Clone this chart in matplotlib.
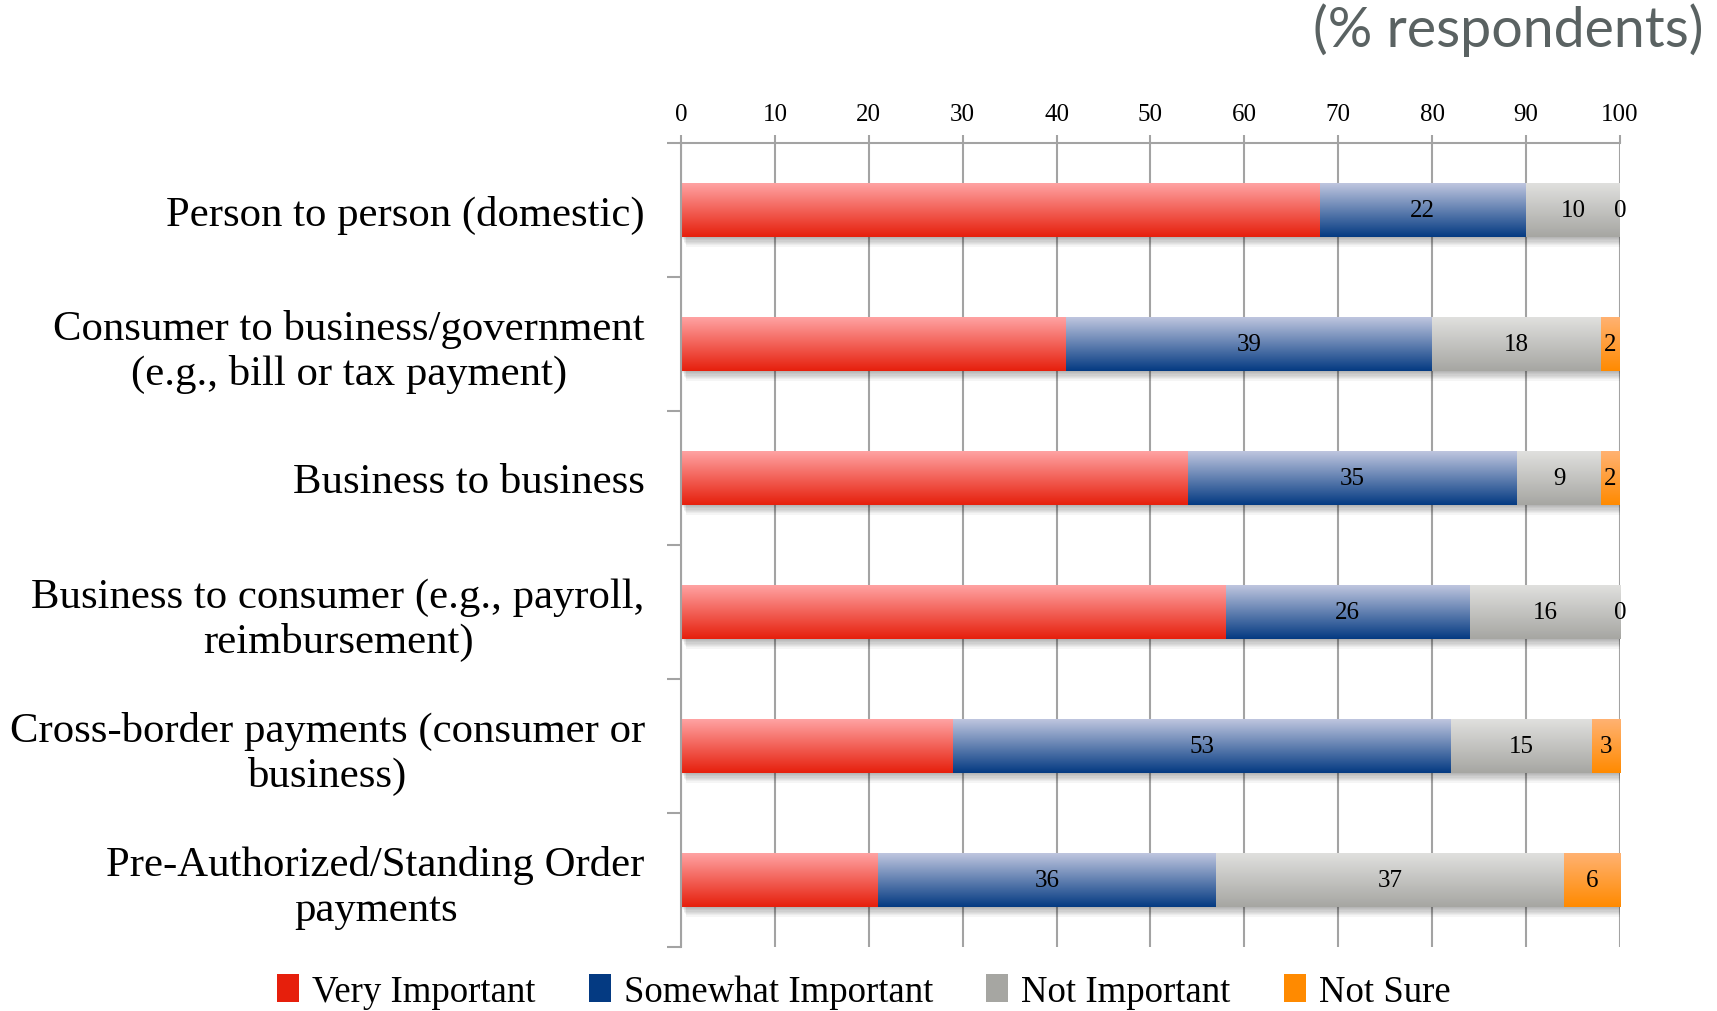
import numpy as np
import matplotlib
matplotlib.use("Agg")
import matplotlib.pyplot as plt
from matplotlib.patches import Rectangle
from matplotlib.colors import LinearSegmentedColormap
import matplotlib.transforms as mtransforms

# ---- data -------------------------------------------------------------
categories = [
    "Person to person (domestic)",
    "Consumer to business/government\n(e.g., bill or tax payment)",
    "Business to business",
    "Business to consumer (e.g., payroll,\nreimbursement)",
    "Cross-border payments (consumer or\nbusiness)",
    "Pre-Authorized/Standing Order\npayments",
]
very_important = [68, 41, 54, 58, 29, 21]
somewhat_important = [22, 39, 35, 26, 53, 36]
not_important = [10, 18, 9, 16, 15, 37]
not_sure = [0, 2, 2, 0, 3, 6]

series_names = ["Very Important", "Somewhat Important", "Not Important", "Not Sure"]
series_values = [very_important, somewhat_important, not_important, not_sure]
show_labels = [False, True, True, True]
x_ticks = list(range(0, 101, 10))

# gradient (top, bottom) colours per series
gradients = [
    ("#ffa3a3", "#e61f0c"),
    ("#bfc6df", "#043a82"),
    ("#e0e0de", "#a6a6a2"),
    ("#ffb272", "#ff8a00"),
]

serif = ["Liberation Serif", "DejaVu Serif"]
plt.rcParams["font.family"] = serif

fig = plt.figure(figsize=(17.17, 10.12), dpi=100)
ax = fig.add_axes([0.3966, 0.0635, 0.9435 - 0.3966, 0.858 - 0.0635])

n = len(categories)
y = np.arange(n)
bar_h = 0.40
grid_col = "#a3a3a3"

# soft drop shadow under each full bar
for i in range(n):
    total = sum(s[i] for s in series_values)
    for k in range(1, 9):
        tr = mtransforms.offset_copy(ax.transData, fig=fig, x=1.2 * k * 0.4, y=-k * 0.9, units="points")
        ax.add_patch(Rectangle((0, i - bar_h / 2), total, bar_h, transform=tr,
                               facecolor="black", edgecolor="none", alpha=0.04, zorder=1.5))

left = np.zeros(n)
for vals, (ctop, cbot), lab in zip(series_values, gradients, show_labels):
    vals = np.asarray(vals, dtype=float)
    bars = ax.barh(y, vals, left=left, height=bar_h, color=cbot, edgecolor="none", zorder=2)
    cmap = LinearSegmentedColormap.from_list("g", [ctop, cbot])
    grad = np.linspace(0, 1, 256).reshape(-1, 1)
    for b in bars:
        x0, w = b.get_x(), b.get_width()
        if w <= 0:
            continue
        yb, h = b.get_y(), b.get_height()
        ax.imshow(grad, cmap=cmap, aspect="auto", extent=(x0, x0 + w, yb + h, yb),
                  origin="upper", zorder=2.5, interpolation="bilinear")
    if lab:
        for i, v in enumerate(vals):
            ax.text(left[i] + v / 2, y[i], f"{v:.0f}", ha="center", va="center",
                    fontsize=18, color="black", zorder=4)
    left += vals

ax.set_xlim(0, 100)
ax.set_ylim(n - 0.5, -0.5)

# top x axis with vertical gridlines
ax.xaxis.tick_top()
ax.set_xticks(x_ticks)
ax.set_xticklabels([str(t) for t in x_ticks], fontsize=18)
ax.tick_params(axis="x", direction="out", length=6, width=1.5, color=grid_col, pad=6.5)
ax.grid(axis="x", color=grid_col, linewidth=1.5)
ax.set_axisbelow(True)

# y axis: ticks on category boundaries, labels at centres
ax.set_yticks(np.arange(-0.5, n, 1.0))
ax.set_yticklabels([])
ax.tick_params(axis="y", which="major", direction="out", length=10, width=1.5, color=grid_col)
ax.set_yticks(y, minor=True)
ax.set_yticklabels(categories, minor=True, fontsize=30.8)
ax.tick_params(axis="y", which="minor", length=0, pad=26)
for t in ax.get_yticklabels(minor=True):
    t.set_multialignment("center")

for side in ["bottom", "right"]:
    ax.spines[side].set_visible(False)
for side in ["top", "left"]:
    ax.spines[side].set_color(grid_col)
    ax.spines[side].set_linewidth(1.5)

# title in the top-right corner
fig.text(0.992, 0.997, "(% respondents)", ha="right", va="top", fontsize=40,
         family=["Lato", "DejaVu Sans"], fontweight="normal", color="#5a6262")

# legend
handles = [Rectangle((0, 0), 1, 1, facecolor=g[1], edgecolor="none") for g in gradients]
fig.legend(handles, series_names, loc="center", bbox_to_anchor=(0.503, 0.019), ncol=4,
           frameon=False, prop={"family": serif, "size": 26.5}, handlelength=0.6,
           handleheight=0.8, handletextpad=0.35, columnspacing=1.45, borderpad=0)

fig.savefig("out.png", dpi=100)
